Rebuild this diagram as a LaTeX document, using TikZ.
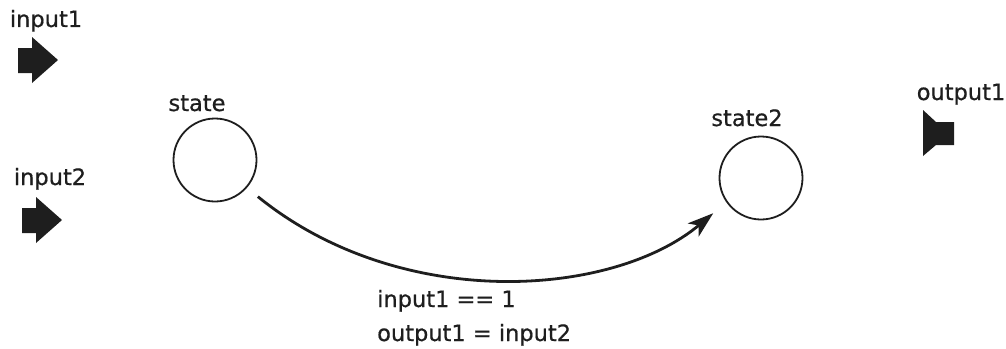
\documentclass[tikz,border=0pt]{standalone}
\usepackage{fontspec}
\setmainfont[FakeBold=0.6]{DejaVu Sans}
\usetikzlibrary{arrows.meta}
\definecolor{ink}{HTML}{1E1E1E}
\tikzset{
  lbl/.style={inner sep=0pt, text=ink, font=\fontsize{22.5}{27}\selectfont},
  statecirc/.style={circle, draw=ink, line width=1.8pt, minimum size=83pt, inner sep=0pt},
  port/.style={fill=ink, draw=none},
  trans/.style={draw=ink, line width=2.8pt, -{Stealth[length=26pt, width=17pt, inset=7pt]}}
}
\begin{document}
\begin{tikzpicture}[x=1pt, y=-1pt]
\useasboundingbox (0,0) rectangle (1006,348);
% input ports
\node[lbl, anchor=base] (in1lab) at (46,27) {input1};
\fill[port] (18,48) -- (32,48) -- (32,37) -- (58,60) -- (32,83) -- (32,73) -- (18,73) -- cycle;
\node[lbl, anchor=base] (in2lab) at (50,185) {input2};
\fill[port] (22,208) -- (36,208) -- (36,197) -- (62,220) -- (36,243) -- (36,233) -- (22,233) -- cycle;
% output port
\node[lbl, anchor=base] (outlab) at (961,100) {output1};
\fill[port] (923,110) -- (936,122) -- (954,122) -- (954,145) -- (936,145) -- (923,156) -- cycle;
% states
\node[statecirc] (s1) at (215,160) {};
\node[lbl, anchor=base] (s1lab) at (197,111) {state};
\node[statecirc] (s2) at (761,178) {};
\node[lbl, anchor=base] (s2lab) at (747,126) {state2};
% transition
\draw[trans, shorten <=14pt, shorten >=17pt] (s1.-41) .. controls (400,312) and (612,298) .. (s2.-145);
\node[lbl, anchor=base west] (g) at (377,307) {input1 == 1};
\node[lbl, anchor=base west] (a) at (377,341) {output1 = input2};
\end{tikzpicture}
\end{document}
